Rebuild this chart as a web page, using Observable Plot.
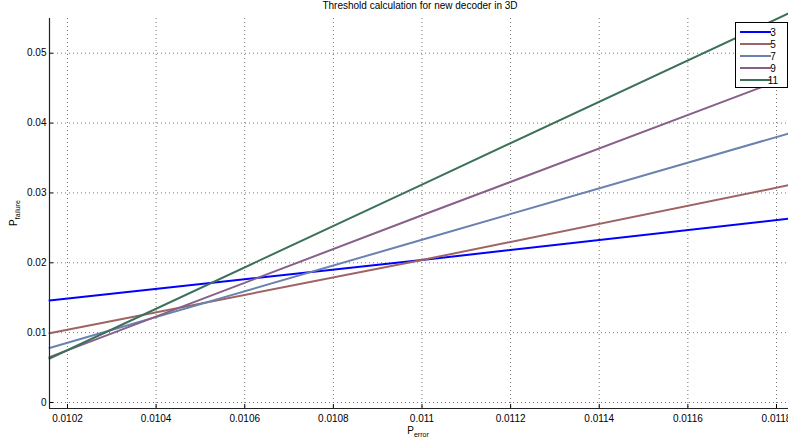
<!DOCTYPE html>
<html>
<head>
<meta charset="utf-8">
<script src="https://cdn.jsdelivr.net/npm/d3@7"></script>
<script src="https://cdn.jsdelivr.net/npm/@observablehq/plot@0.6"></script>
<style>
  html, body { margin: 0; padding: 0; background: #fff; }
  #chart svg { display: block; font-family: "Liberation Sans", Arial, sans-serif; }
</style>
</head>
<body>
<div id="chart"></div>
<script>
// ---- data ----
const seriesNames = ["3", "5", "7", "9", "11"];
const seriesColors = ["#0000ff", "#9e6464", "#6a82b0", "#87608a", "#3c7158"];
const pError = [0.0101594, 0.011, 0.0118271];
const pFail3  = [0.0146, 0.0204, 0.0263];
const pFail5  = [0.0099, 0.0204, 0.0311];
const pFail7  = [0.0078, 0.0233, 0.0385];
const pFail9  = [0.0065, 0.0268, 0.0466];
const pFail11 = [0.0063, 0.0312, 0.0557];
const xTicks = [0.0102, 0.0104, 0.0106, 0.0108, 0.011, 0.0112, 0.0114, 0.0116, 0.0118];
const yTicks = [0, 0.01, 0.02, 0.03, 0.04, 0.05];
const xDomain = [0.0101594, 0.0118271];
const yDomain = [-0.00086, 0.05497];
const title = "Threshold calculation for new decoder in 3D";

const allSeries = [pFail3, pFail5, pFail7, pFail9, pFail11];
const rows = [];
allSeries.forEach((vals, i) => vals.forEach((v, j) => rows.push({s: seriesNames[i], x: pError[j], y: v})));

const W = 788, H = 443, mT = 18, mB = 35, mL = 49, mR = 0;
const fmt = d => String(+d.toFixed(5));

const plot = Plot.plot({
  width: W, height: H,
  marginTop: mT, marginBottom: mB, marginLeft: mL, marginRight: mR,
  style: {fontFamily: "Liberation Sans, Arial, sans-serif", fontSize: "10px", color: "#000", background: "#fff"},
  x: {domain: xDomain, ticks: xTicks, tickFormat: fmt, label: null},
  y: {domain: yDomain, ticks: yTicks, tickFormat: fmt, label: null},
  color: {domain: seriesNames, range: seriesColors},
  marks: [
    Plot.gridX(xTicks, {stroke: "#777", strokeOpacity: 1, strokeWidth: 1, strokeDasharray: "1,3"}),
    Plot.gridY(yTicks, {stroke: "#777", strokeOpacity: 1, strokeWidth: 1, strokeDasharray: "1,3"}),
    Plot.axisX({ticks: xTicks, tickFormat: fmt, tickSize: 0, tickPadding: 6, fontSize: 10, label: null}),
    Plot.axisY({ticks: yTicks, tickFormat: fmt, tickSize: 0, tickPadding: 3, fontSize: 10, label: null}),
    Plot.tickX(xTicks, {x: d => d, stroke: "#000", strokeWidth: 1, insetTop: H - mT - mB - 4}),
    Plot.tickY(yTicks, {y: d => d, stroke: "#000", strokeWidth: 1, insetRight: W - mL - mR - 4}),
    Plot.line(rows, {x: "x", y: "y", z: "s", stroke: "s", strokeWidth: 2}),
    Plot.ruleX([xDomain[0]], {stroke: "#222", strokeWidth: 1.2}),
    Plot.ruleY([yDomain[0]], {stroke: "#222", strokeWidth: 1.2})
  ]
});

const svg = d3.select(plot);
// title
svg.append("text").attr("x", 420).attr("y", 9).attr("text-anchor", "middle")
  .attr("font-size", 10).attr("fill", "#000").text(title);
// x label P_error
const xl = svg.append("text").attr("x", 418).attr("y", 434).attr("text-anchor", "middle")
  .attr("font-size", 10).attr("fill", "#000");
xl.append("tspan").text("P");
xl.append("tspan").attr("font-size", 7).attr("dy", 3).text("error");
// y label P_failure
const yl = svg.append("text").attr("transform", "translate(17,213) rotate(-90)").attr("text-anchor", "middle")
  .attr("font-size", 10).attr("fill", "#000");
yl.append("tspan").text("P");
yl.append("tspan").attr("font-size", 7).attr("dy", 3).text("failure");

// legend
const lg = svg.append("g");
lg.append("rect").attr("x", 735.5).attr("y", 22.5).attr("width", 52).attr("height", 65)
  .attr("fill", "#fff").attr("stroke", "#000").attr("stroke-width", 1);
seriesNames.forEach((n, i) => {
  const yy = 32 + i * 12;
  lg.append("line").attr("x1", 740).attr("x2", 771).attr("y1", yy).attr("y2", yy)
    .attr("stroke", seriesColors[i]).attr("stroke-width", 2);
  lg.append("text").attr("x", 773).attr("y", yy).attr("dy", "0.35em")
    .attr("font-size", 10).attr("fill", "#000").text(n);
});

document.getElementById("chart").appendChild(plot);
</script>
</body>
</html>
